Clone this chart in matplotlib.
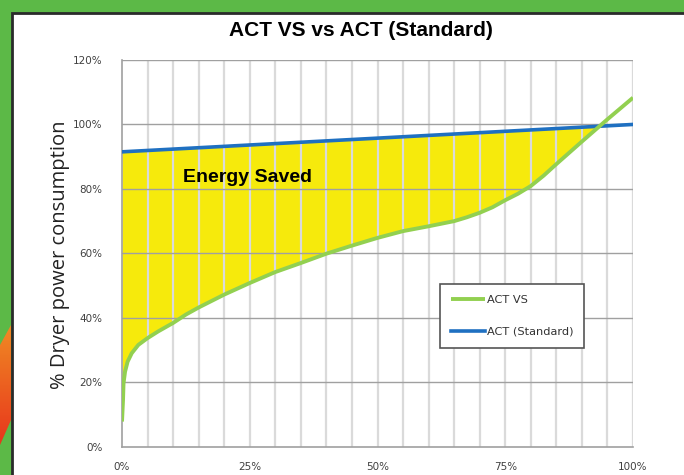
import numpy as np
import matplotlib
matplotlib.use("Agg")
import matplotlib.pyplot as plt
from matplotlib.patches import Rectangle, Polygon

# data (x = % load, y = % power)
load_pct = [0, 0.2, 0.3, 0.6, 1.1, 1.9, 3.2, 5, 7.1, 10, 12.5, 15, 17.5, 20, 25, 30, 35, 40,
            45, 50, 55, 60, 62.5, 65, 67.5, 70, 72.5, 75, 77.5, 80, 82.5, 85, 90, 95, 100]
act_vs = [7.8, 14.5, 19.7, 23.3, 26.4, 29, 31.6, 33.7, 35.8, 38.4, 41, 43.2, 45.2, 47.2, 50.8,
          54.2, 57, 59.9, 62.4, 64.8, 66.9, 68.4, 69.2, 70, 71.2, 72.6, 74.3, 76.5, 78.5,
          80.9, 84.1, 87.7, 94.7, 101.6, 108.3]
std_x = [0, 100]
act_std = [91.5, 100]

y_ticks = [0, 20, 40, 60, 80, 100, 120]
x_ticks = [0, 25, 50, 75, 100]

GREEN_BG = "#5cb947"
LINE_GREEN = "#92d050"
LINE_BLUE = "#1f70c1"
YELLOW = "#f6ea0c"

W, H = 684, 475
fig = plt.figure(figsize=(W / 100, H / 100), dpi=100)
fig.patch.set_facecolor(GREEN_BG)

# white panel with dark border
fig.patches.append(Rectangle((12 / W, -0.05), 1.0, 1 - 13 / H + 0.05, transform=fig.transFigure,
                             facecolor="white", edgecolor="#2a2a2a", linewidth=2, zorder=-5))

# orange/red wedge on left edge
wedge_ax = fig.add_axes([0, 0, 11 / W, 1])
wedge_ax.set_xlim(0, 1)
wedge_ax.set_ylim(H, 0)
wedge_ax.axis("off")
grad = np.linspace(0, 1, 100).reshape(-1, 1)
img = wedge_ax.imshow(grad, extent=[0, 1, 445, 325], aspect="auto",
                      cmap=matplotlib.colors.LinearSegmentedColormap.from_list("o", ["#f08a24", "#e8361c"]))
poly = Polygon([[0, 345], [1, 325], [1, 420], [0, 445]], closed=True, transform=wedge_ax.transData)
img.set_clip_path(poly)

ax = fig.add_axes([122 / W, 28.3 / H, 511 / W, 386.7 / H])
ax.set_facecolor("white")

std_at_x = np.interp(load_pct, std_x, act_std)
ax.fill_between(load_pct, act_vs, std_at_x, where=np.array(act_vs) <= std_at_x,
                interpolate=True, color=YELLOW, linewidth=0, zorder=1)

# grid (drawn over the yellow fill like the reference)
for xv in np.arange(5, 101, 5):
    ax.axvline(xv, color="#dadada", linewidth=1.6, zorder=1.2)
for yv in y_ticks[1:]:
    ax.axhline(yv, color="#a0a0a0", linewidth=1.0, zorder=1.5)

ax.plot(std_x, act_std, color=LINE_BLUE, linewidth=2.6, label="ACT (Standard)", zorder=3)
ax.plot(load_pct, act_vs, color=LINE_GREEN, linewidth=2.8, label="ACT VS", zorder=3,
        solid_capstyle="butt", solid_joinstyle="round")

ax.set_xlim(0, 100)
ax.set_ylim(0, 120)
ax.set_xticks(x_ticks)
ax.set_xticklabels([f"{v}%" for v in x_ticks])
ax.set_yticks(y_ticks)
ax.set_yticklabels([f"{v}%" for v in y_ticks])
ax.tick_params(length=0, labelsize=7.5, labelcolor="#404040")
ax.tick_params(axis="y", pad=14)
ax.tick_params(axis="x", pad=11)
for s in ["top", "right"]:
    ax.spines[s].set_visible(False)
for s in ["left", "bottom"]:
    ax.spines[s].set_color("#a0a0a0")
    ax.spines[s].set_linewidth(1.2)

ax.text(11.9, 83.6, "Energy Saved", fontsize=14, fontweight="bold",
        family="Liberation Sans", va="center", ha="left", zorder=4)

handles, labels = ax.get_legend_handles_labels()
leg = ax.legend(handles[::-1], labels[::-1], loc="lower left", bbox_to_anchor=(0.622, 0.255),
                fancybox=False, edgecolor="#555555", framealpha=1, fontsize=8.2,
                handlelength=3.0, handletextpad=0.1, labelspacing=1.9, borderpad=1.0,
                borderaxespad=0)
leg.get_frame().set_linewidth(1.2)
for t in leg.get_texts():
    t.set_color("#333333")

fig.text(361 / W, 1 - 30 / H, "ACT VS vs ACT (Standard)", ha="center", va="center",
         fontsize=15, fontweight="bold", family="Liberation Sans")
fig.text(60 / W, 1 - 255 / H, "% Dryer power consumption", ha="center", va="center",
         rotation=90, fontsize=14.5, family="Open Sans", color="#222222")

fig.savefig("out.png", dpi=100, facecolor=fig.get_facecolor())
